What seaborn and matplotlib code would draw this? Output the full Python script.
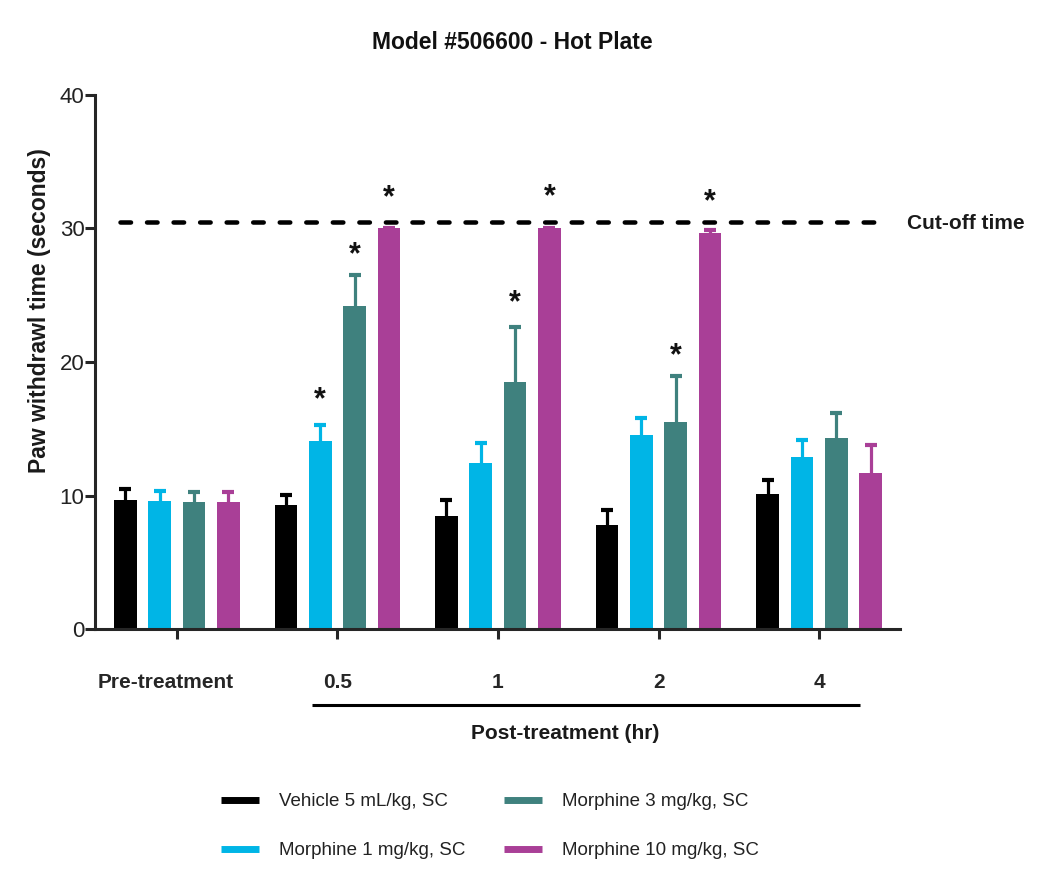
import numpy as np
import pandas as pd
import seaborn as sns
import matplotlib
matplotlib.use("Agg")
import matplotlib.pyplot as plt
from matplotlib.lines import Line2D
from matplotlib.container import BarContainer
import matplotlib.transforms as mtransforms

# ---------------- data ----------------
groups = ["Pre-treatment", "0.5", "1", "2", "4"]
series = ["Vehicle 5 mL/kg, SC", "Morphine 1 mg/kg, SC",
          "Morphine 3 mg/kg, SC", "Morphine 10 mg/kg, SC"]
vehicle_mean = [9.65, 9.27, 8.46, 7.77, 10.09]
vehicle_sem = [0.80, 0.78, 1.22, 1.18, 1.05]
m1_mean = [9.60, 14.06, 12.43, 14.50, 12.86]
m1_sem = [0.75, 1.19, 1.50, 1.30, 1.29]
m3_mean = [9.50, 24.20, 18.50, 15.48, 14.29]
m3_sem = [0.75, 2.32, 4.15, 3.47, 1.89]
m10_mean = [9.50, 30.00, 30.00, 29.64, 11.66]
m10_sem = [0.75, 0.00, 0.00, 0.28, 2.15]
cutoff = 30.5
# significance stars: (group, series index, height)
star_group = ["0.5", "0.5", "0.5", "1", "1", "2", "2"]
star_series = [1, 2, 3, 2, 3, 2, 3]
star_y = [17.6, 28.5, 32.7, 24.9, 32.8, 20.9, 32.4]

colors = ["#000000", "#00b5e6", "#3f817e", "#a93f97"]

means = [vehicle_mean, m1_mean, m3_mean, m10_mean]
sems = [vehicle_sem, m1_sem, m3_sem, m10_sem]
df = pd.DataFrame({
    "group": np.tile(groups, len(series)),
    "series": np.repeat(series, len(groups)),
    "value": np.concatenate(means),
})

# ---------------- style ----------------
sns.set_theme(style="ticks")
plt.rcParams["font.family"] = ["Liberation Sans", "DejaVu Sans"]
plt.rcParams["axes.linewidth"] = 2.2

fig = plt.figure(figsize=(10.5, 8.85), dpi=100)
ax = fig.add_axes([95 / 1050, 1 - 629 / 885, 805 / 1050, 534 / 885])

sns.barplot(data=df, x="group", y="value", hue="series", order=groups,
            hue_order=series, palette=colors, width=0.855, gap=0.34,
            errorbar=None, saturation=1, linewidth=0, legend=False, ax=ax)

bar_conts = [c for c in ax.containers if isinstance(c, BarContainer)]

# error bars (upper only) from bar centers
centers = []
for i, cont in enumerate(bar_conts):
    xs = np.array([p.get_x() + p.get_width() / 2 for p in cont.patches])
    centers.append(xs)
    eb = ax.errorbar(xs, means[i], yerr=[np.zeros(len(groups)), sems[i]],
                     fmt="none", ecolor=colors[i], elinewidth=2.3, capsize=4.0,
                     capthick=3.0, zorder=0.5)
    caplines = eb[1]
    if len(caplines) == 2:
        caplines[0].set_visible(False)

# stars
for g, s, yv in zip(star_group, star_series, star_y):
    xi = centers[s][groups.index(g)]
    ax.annotate("*", (xi, yv), xytext=(0, -4.5), textcoords="offset points",
                ha="center", va="center", fontsize=22,
                fontweight="bold", color="#111111")

# cut-off line
ax.hlines(cutoff, -0.354, 4.379, colors="black", linewidth=3.25,
          linestyles=(0, (2.33, 3.55)), capstyle="round", zorder=3)
ax.text(1.0087, cutoff - 0.1, "Cut-off time",
        transform=mtransforms.blended_transform_factory(ax.transAxes, ax.transData),
        ha="left", va="center", fontsize=15, fontweight="bold", color="#1a1a1a", clip_on=False)

# axes
ax.set_xlim(-0.509, 4.503)
ax.set_ylim(0, 40)
ax.set_yticks([0, 10, 20, 30, 40])
sns.despine(ax=ax)
ax.tick_params(axis="y", length=7, width=2.2, labelsize=16, pad=0.5, labelcolor="#222222")
ax.tick_params(axis="x", length=7, width=2.2, labelsize=15, pad=25)
xlabs = ax.get_xticklabels()
for lab in xlabs:
    lab.set_fontweight("bold")
xlabs[0].set_transform(xlabs[0].get_transform() +
                       mtransforms.ScaledTranslation(-0.11, 0, fig.dpi_scale_trans))
ax.set_xlabel("")
ax.set_ylabel("Paw withdrawl time (seconds)", fontsize=16.5, fontweight="bold", color="#1a1a1a")
ax.yaxis.set_label_coords(-0.055, 0.597)

# post-treatment bracket
trans = mtransforms.blended_transform_factory(ax.transData, ax.transAxes)
ax.plot([0.845, 4.255], [-0.1423, -0.1423], transform=trans, color="black",
        linewidth=2.2, clip_on=False, solid_capstyle="butt")
ax.text(2.42, -0.1948, "Post-treatment (hr)", transform=trans, ha="center", va="center",
        fontsize=15, fontweight="bold", color="#1a1a1a")

ax.set_title("Model #506600 - Hot Plate", fontsize=16.5, fontweight="bold",
             x=0.518, y=1.082, va="center", color="#111111")

# legend
handles = [Line2D([0], [0], color=c, linewidth=5, solid_capstyle="butt") for c in colors]
fig.legend(handles, series, ncol=2, loc="upper left",
           bbox_to_anchor=(221 / 1050, 0.104), frameon=False, fontsize=13.5,
           handlelength=2.03, handletextpad=1.07, columnspacing=2.03,
           labelspacing=1.72, borderpad=0, borderaxespad=0, labelcolor="#222222")

fig.savefig("out.png", dpi=100)
